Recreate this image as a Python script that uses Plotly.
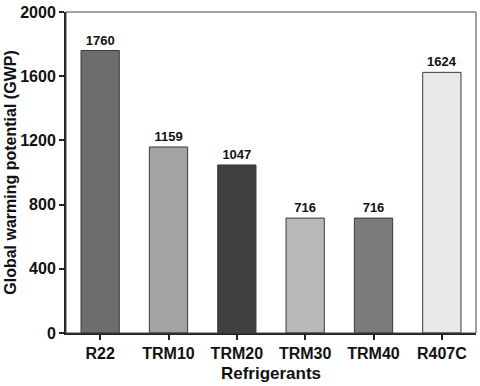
import plotly.graph_objects as go

refrigerants = ["R22", "TRM10", "TRM20", "TRM30", "TRM40", "R407C"]
gwp = [1760, 1159, 1047, 716, 716, 1624]
bar_colors = ["#6d6d6d", "#a3a3a3", "#404040", "#b8b8b8", "#7b7b7b", "#e8e8e8"]
y_ticks = [0, 400, 800, 1200, 1600, 2000]

font = "Arial, Liberation Sans, sans-serif"

fig = go.Figure(
    go.Bar(
        x=refrigerants,
        y=gwp,
        width=0.56,
        marker=dict(color=bar_colors, line=dict(color="#3a3a3a", width=1)),
        text=["<b>%d</b>" % v for v in gwp],
        textposition="outside",
        textfont=dict(family=font, size=13, color="#111"),
        cliponaxis=False,
    )
)

fig.update_layout(
    width=480,
    height=386,
    margin=dict(l=66, r=4, t=12, b=53),
    plot_bgcolor="white",
    paper_bgcolor="white",
    showlegend=False,
    font=dict(family=font, color="#111"),
    shapes=[
        dict(type="rect", xref="paper", yref="paper", x0=0, y0=0, x1=1, y1=1,
             line=dict(color="#444", width=1), layer="above")
    ],
)

fig.update_xaxes(
    range=[-0.5, 5.5],
    automargin=False,
    showline=True, linecolor="#222", linewidth=2,
    ticks="outside", ticklen=5, tickcolor="#222", tickwidth=1.5,
    tickfont=dict(size=16, family=font, weight="bold"),
    title=dict(text="<b>Refrigerants</b>", font=dict(size=17), standoff=6),
    showgrid=False,
)
fig.update_yaxes(
    range=[0, 2000],
    automargin=False,
    tickvals=y_ticks,
    showline=True, linecolor="#222", linewidth=2,
    ticks="outside", ticklen=5, tickcolor="#222", tickwidth=1.5,
    tickfont=dict(size=16, family=font, weight="bold"),
    title=dict(text="<b>Global warming potential (GWP)</b>", font=dict(size=16), standoff=0),
    showgrid=False, zeroline=False,
)

# drop the default 8px body margin so the figure fills the window exactly
fig.write_html("out.html", config={"displayModeBar": False},
               post_script="document.body.style.margin='0';")
